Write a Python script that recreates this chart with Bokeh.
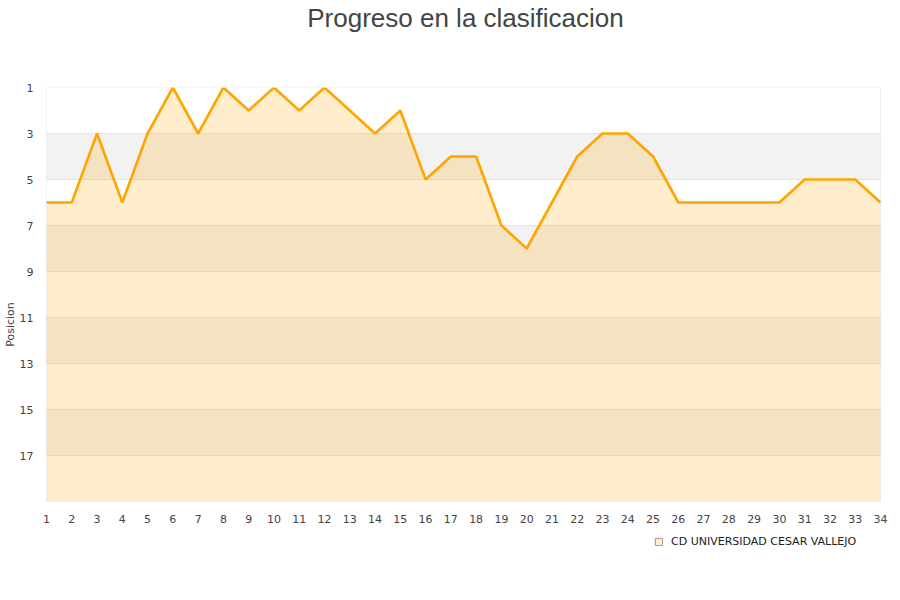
from bokeh.plotting import figure
from bokeh.models import (Range1d, FixedTicker, Legend, LegendItem, ColumnDataSource,
                          BoxAnnotation, Title)
from bokeh.embed import file_html
from bokeh.resources import INLINE

title = "Progreso en la clasificacion"
team = "CD UNIVERSIDAD CESAR VALLEJO"
jornadas = list(range(1, 35))
posiciones = [6, 6, 3, 6, 3, 1, 3, 1, 2, 1, 2, 1, 2, 3, 2, 5, 4, 4, 7, 8,
              6, 4, 3, 3, 4, 6, 6, 6, 6, 6, 5, 5, 5, 6]
y_ticks = [1, 3, 5, 7, 9, 11, 13, 15, 17]
n_teams = 19

# layout: plot box 414px tall for positions 1..19, plus 60px of frame below for the legend
PX_PER_Y = 414 / (n_teams - 1)
EXTRA_PX = 60
frame_h = 414 + EXTRA_PX
y_bottom = n_teams + EXTRA_PX / PX_PER_Y
PX_PER_X = 834 / (jornadas[-1] - jornadas[0])
PAD_L, PAD_R = 4, 8
x_start = jornadas[0] - PAD_L / PX_PER_X
x_end = jornadas[-1] + PAD_R / PX_PER_X
frame_w = 834 + PAD_L + PAD_R

src = ColumnDataSource(dict(x=jornadas, y=posiciones, base=[n_teams] * len(jornadas)))

p = figure(frame_width=frame_w, frame_height=frame_h, title=None,
           output_backend="svg", toolbar_location=None,
           x_range=Range1d(x_start, x_end), y_range=Range1d(y_bottom, 1),
           min_border_left=28, min_border_right=4, min_border_top=86, min_border_bottom=0)

spacer = Title(text=" ", text_font_size="47px", standoff=0)
p.add_layout(spacer, "above")
p.add_layout(Title(text=title, align="center", text_font="Liberation Sans",
                   text_font_size="26px", text_font_style="normal",
                   text_color="#444444", standoff=0), "above")

p.outline_line_color = None
p.background_fill_color = "white"
p.border_fill_color = "white"

p.xgrid.grid_line_color = None
p.ygrid.grid_line_color = "#e3e3e3"
p.ygrid.band_fill_color = "#f2f2f2"
p.ygrid.band_fill_alpha = 1.0
if "cross_bounds" in p.ygrid[0].properties():
    p.ygrid.cross_bounds = (jornadas[0], jornadas[-1])

p.xaxis.ticker = FixedTicker(ticks=jornadas)
p.xaxis.fixed_location = n_teams
p.yaxis.ticker = FixedTicker(ticks=y_ticks)
p.yaxis.bounds = (1, n_teams)
for ax in (p.xaxis[0], p.yaxis[0]):
    ax.axis_line_color = None
    ax.major_tick_line_color = None
    ax.minor_tick_line_color = None
    ax.major_label_text_font = "DejaVu Sans"
    ax.major_label_text_font_size = "11px"
    ax.major_label_text_color = "#444444"
p.xaxis.major_label_standoff = 7
p.yaxis.major_label_standoff = 3
p.yaxis.axis_label = "Posicion"
p.yaxis.axis_label_text_font = "DejaVu Sans"
p.yaxis.axis_label_text_font_size = "11px"
p.yaxis.axis_label_text_font_style = "normal"
p.yaxis.axis_label_text_color = "#444444"
p.yaxis.axis_label_standoff = 0

p.varea(x="x", y1="y", y2="base", source=src, fill_color="#FFA500", fill_alpha=0.2)
p.line(x="x", y="y", source=src, line_color="#FFA500", line_width=2.6)

p.add_layout(BoxAnnotation(left=jornadas[0], right=jornadas[-1], top=1, bottom=n_teams,
                           fill_alpha=0, line_color="#d0d0d0", line_width=1))

nan = float("nan")
proxy = p.quad(left=[nan], right=[nan], top=[nan], bottom=[nan], fill_color="#FFEDCC",
               line_color="#999999", line_width=1)

legend = Legend(items=[LegendItem(label=team, renderers=[proxy])],
                location=(612, 13), orientation="horizontal",
                glyph_width=9, glyph_height=9, label_text_font="DejaVu Sans",
                label_text_font_size="11px", label_text_color="#222222",
                border_line_color=None, background_fill_alpha=0,
                margin=0, padding=4, label_standoff=8)
p.add_layout(legend, "center")

open("out.html", "w").write(file_html(p, INLINE))
